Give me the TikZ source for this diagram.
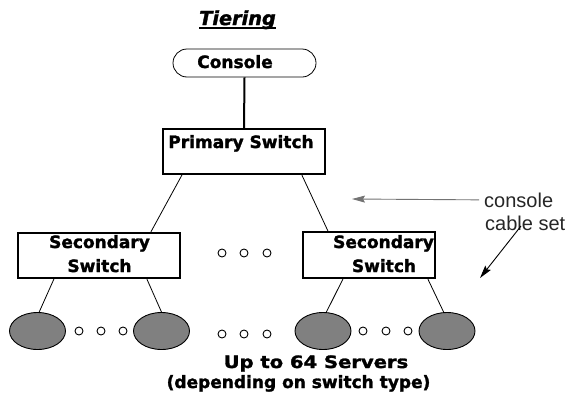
\documentclass[tikz,border=0pt]{standalone}
\usepackage{fontspec}
\setsansfont{Liberation Sans}
\newfontfamily\dv{DejaVu Sans}[BoldFeatures={FakeBold=1.6},BoldItalicFeatures={FakeBold=1.6}]
\usetikzlibrary{arrows.meta,calc,shapes.geometric}
\tikzset{
  hv/.style={font=\dv\bfseries\fontsize{17}{20}\selectfont, inner sep=0, anchor=base},
  lab/.style={font=\sffamily\fontsize{20}{23}\selectfont, inner sep=0, anchor=base west, text=black!85},
  box/.style={draw, line width=2.2, minimum width=#1, minimum height=45, inner sep=0},
  link/.style={line width=0.8},
  server/.style={ellipse, draw, line width=0.9, fill=black!50, minimum width=56, minimum height=37, inner sep=0},
  dot/.style={circle, draw, line width=0.9, fill=white, minimum size=8, inner sep=0},
  tip/.style={-{Stealth[length=13,width=7,inset=2]}, line width=0.9}
}
\begin{document}
\begin{tikzpicture}[x=1pt,y=-1pt]
\useasboundingbox[fill=white] (0,0) rectangle (569,399);
% title
\node[hv, font=\dv\bfseries\itshape\fontsize{19.3}{21}\selectfont] (title) at (237.5,25) {Tiering};
\draw[line width=2] ($(title.base west)+(0,3)$) -- ($(title.base east)+(0,3)$);
% console
\node[draw, line width=0.8, rounded corners=14, minimum width=143, minimum height=28, inner sep=0] (console) at (244.5,63) {};
\node[hv] (consoletxt) at (235,68) {Console};
% primary switch
\node[box=162] (primary) at (244,151.5) {};
\node[hv] (primarytxt) at (241,148) {Primary Switch};
\draw[line width=2] (console.south) -- (primary.north);
% secondary switches
\node[box=162] (secL) at (99,255.5) {};
\node[hv] (secLa) at (99.5,248) {Secondary};
\node[hv] (secLb) at (99.5,272) {Switch};
\node[box=132, minimum height=46] (secR) at (369,255) {};
\node[hv] (secRa) at (383.5,248) {Secondary};
\node[hv] (secRb) at (384,272) {Switch};
\draw[link] ([xshift=20]primary.south west) -- ([xshift=134]secL.north west);
\draw[link] ([xshift=140]primary.south west) -- ([xshift=26]secR.north west);
% dots between switches
\node[dot] (m1) at (222,253) {};
\node[dot] (m2) at (244,253) {};
\node[dot] (m3) at (267,253) {};
% servers
\node[server] (s1) at (37.5,331) {};
\node[server] (s2) at (161.5,331) {};
\node[server] (s3) at (323,331) {};
\node[server] (s4) at (447,331) {};
\draw[link] ([xshift=37]secL.south west) -- (s1.85);
\draw[link] ([xshift=130]secL.south west) -- (s2.north);
\draw[link] ([xshift=41]secR.south west) -- (s3.80);
\draw[link] ([xshift=126]secR.south west) -- (s4.100);
\node[dot] (d1) at (79,331) {};
\node[dot] (d2) at (101,331) {};
\node[dot] (d3) at (123,331) {};
\node[dot] (e1) at (222,334) {};
\node[dot] (e2) at (244,334) {};
\node[dot] (e3) at (267,334) {};
\node[dot] (f1) at (363,331) {};
\node[dot] (f2) at (386,331) {};
\node[dot] (f3) at (408,331) {};
% caption
\node[hv] (cap1) at (316,368) {\scalebox{1.15}[1]{Up to 64 Servers}};
\node[hv] (cap2) at (298.5,388) {(depending on switch type)};
% labels
\node[lab] (lab1) at (484,207) {console};
\node[lab] (lab2) at (485,230) {cable set};
\coordinate (a1) at (352,199);
\draw[tip, draw=black!55] ([xshift=-5]lab1.west) -- (a1);
\coordinate (a2s) at (521,226);
\coordinate (a2e) at (480,278);
\draw[tip] (a2s) -- (a2e);
\end{tikzpicture}
\end{document}
